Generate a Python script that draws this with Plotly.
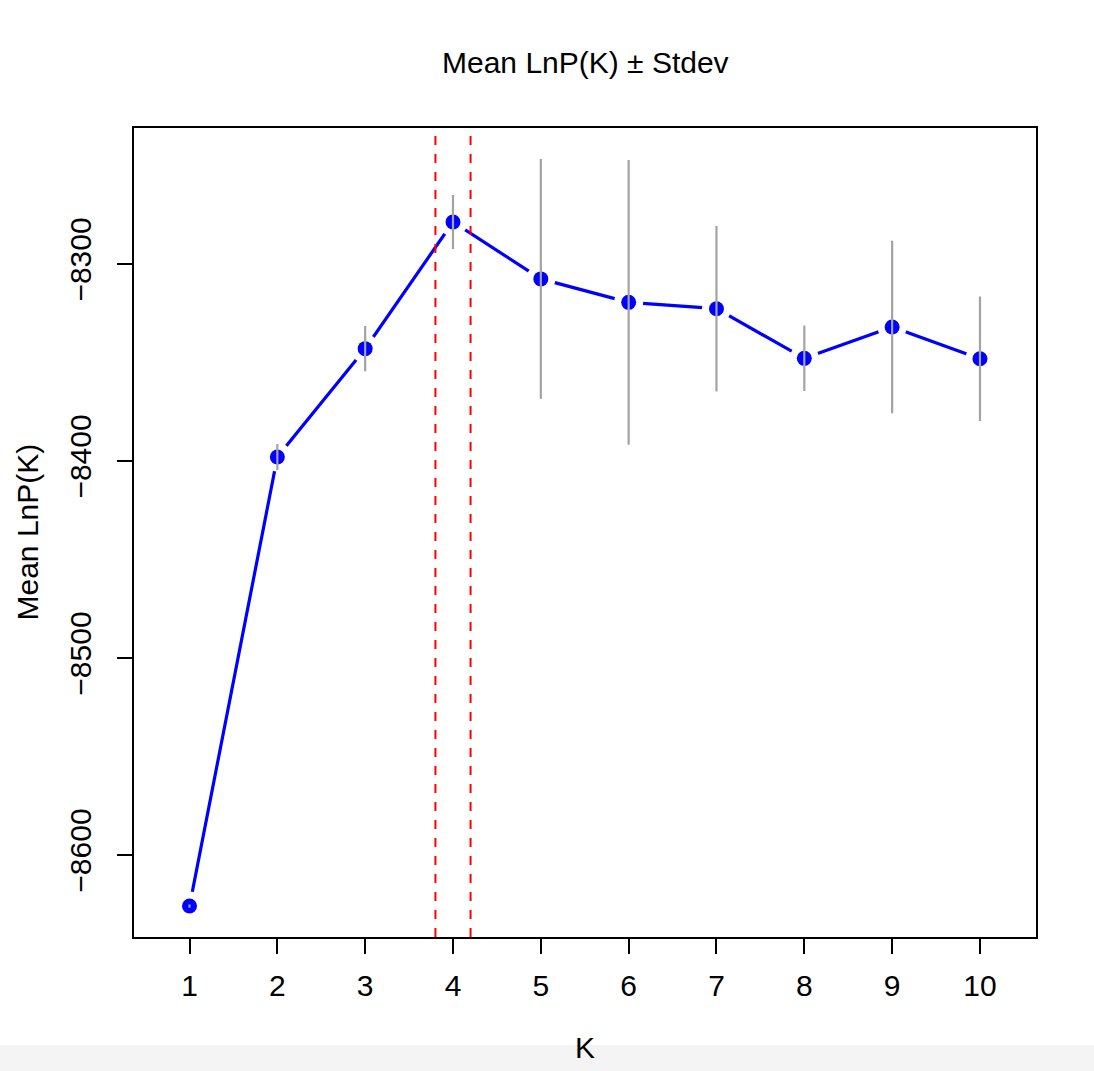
import plotly.graph_objects as go

K = [1, 2, 3, 4, 5, 6, 7, 8, 9, 10]
mean_lnp = [-8625.9, -8398.0, -8343.0, -8278.7, -8307.6, -8319.5, -8322.7, -8347.9, -8332.0, -8348.1]
stdev = [0.8, 6.6, 11.5, 13.7, 60.9, 72.3, 42.0, 16.6, 43.8, 31.6]
best_k_band = [3.8, 4.2]
x_ticks = K
y_ticks = [-8300, -8400, -8500, -8600]
y_tick_text = ["\u22128300", "\u22128400", "\u22128500", "\u22128600"]

FONT = "Liberation Sans, Arial, Helvetica, sans-serif"
FS = 30

fig = go.Figure()

fig.add_trace(go.Scatter(x=K, y=mean_lnp, mode="lines",
                         line=dict(color="#0000FF", width=3.2),
                         hoverinfo="skip", showlegend=False))
fig.add_trace(go.Scatter(x=K, y=mean_lnp, mode="markers",
                         marker=dict(color="white", size=29, line=dict(width=0)),
                         hoverinfo="skip", showlegend=False))
fig.add_trace(go.Scatter(x=K, y=mean_lnp, mode="markers",
                         marker=dict(color="#0000FF", size=15, line=dict(width=0)),
                         showlegend=False))
fig.add_trace(go.Scatter(x=K, y=mean_lnp, mode="markers",
                         marker=dict(color="rgba(0,0,0,0)", size=1),
                         error_y=dict(type="data", array=stdev, visible=True,
                                      color="#A3A3A3", thickness=2.2, width=0),
                         hoverinfo="skip", showlegend=False))

for xv in best_k_band:
    fig.add_shape(type="line", xref="x", yref="paper", x0=xv, x1=xv, y0=0, y1=1,
                  line=dict(color="#FF0000", width=2, dash="dash"))

fig.add_shape(type="rect", xref="paper", yref="paper",
              x0=-0.2, x1=1.2, y0=-(1045 - 937) / 809, y1=-0.3,
              fillcolor="#F4F4F4", line=dict(width=0), layer="below")

fig.update_layout(
    width=1094, height=1071,
    margin=dict(l=134, r=58, t=128, b=134),
    paper_bgcolor="white", plot_bgcolor="white",
    font=dict(family=FONT, size=FS, color="black"),
    showlegend=False,
    annotations=[
        dict(text="Mean LnP(K) \u00b1 Stdev", xref="paper", yref="paper",
             x=0.5, y=1 + (128 - 63) / 809, xanchor="center", yanchor="middle",
             showarrow=False, font=dict(size=FS)),
        dict(text="K", xref="paper", yref="paper",
             x=0.5, y=-(1047 - 937) / 809, xanchor="center", yanchor="middle",
             showarrow=False, font=dict(size=FS)),
        dict(text="Mean LnP(K)", xref="paper", yref="paper",
             x=-(134 - 27) / 902, y=0.5, xanchor="center", yanchor="middle",
             textangle=-90, showarrow=False, font=dict(size=FS)),
    ],
)

fig.update_xaxes(range=[0.368, 10.638], tickmode="array", tickvals=x_ticks,
                 ticktext=[str(k) for k in x_ticks],
                 showgrid=False, zeroline=False,
                 showline=True, linecolor="black", linewidth=2, mirror=True,
                 ticks="outside", ticklen=15, tickwidth=2, tickcolor="black",
                 ticklabelstandoff=6,
                 tickfont=dict(size=FS))
fig.update_yaxes(range=[-8641.6, -8231.0], tickmode="array", tickvals=y_ticks,
                 ticktext=y_tick_text, tickangle=-90,
                 showgrid=False, zeroline=False,
                 showline=True, linecolor="black", linewidth=2, mirror=True,
                 ticks="outside", ticklen=15, tickwidth=2, tickcolor="black",
                 ticklabelstandoff=14,
                 tickfont=dict(size=FS))

fig.write_html("out.html", config={"displayModeBar": False},
               post_script="document.body.style.margin='0';document.body.style.padding='0';")
